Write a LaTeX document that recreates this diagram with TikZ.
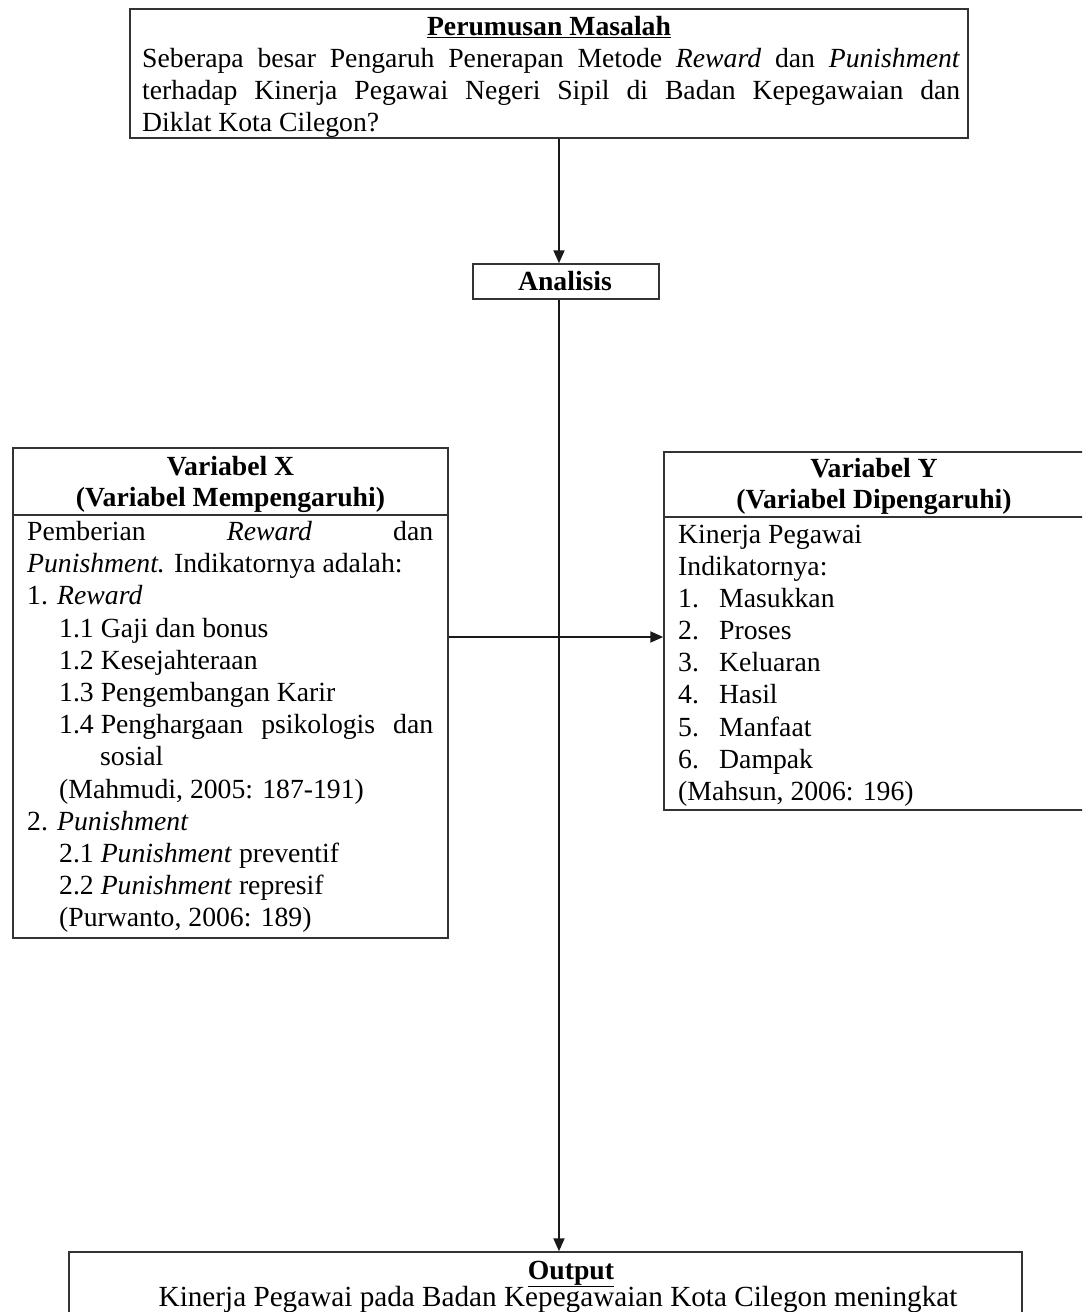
\documentclass[tikz,border=0pt]{standalone}
\usepackage{fontspec}
\setmainfont{Liberation Serif}
\usetikzlibrary{arrows.meta,positioning}

% justified line of a given width
\newcommand{\jline}[2]{\makebox[#1][s]{#2}}

\begin{document}
\begin{tikzpicture}[x=1pt,y=-1pt,
  every node/.style={inner sep=0pt, font=\fontsize{27.7}{32.2}\selectfont},
  box/.style={draw=black!80, line width=1.5pt},
  head/.style={anchor=base, font=\fontsize{27.7}{32.2}\selectfont\bfseries},
  txt/.style={anchor=base west},
  arr/.style={draw=black!90, line width=2pt, -{Triangle[length=13pt,width=11pt]}}]
\useasboundingbox (0,0) rectangle (1082,1312);
\clip (0,0) rectangle (1082,1312);

% boxes
\node[box, minimum width=838, minimum height=129] (pm) at (549,73.5) {};
\node[box, minimum width=186, minimum height=35] (an) at (566,281.5) {};
\node[box, minimum width=435, minimum height=490] (vx) at (230.5,693) {};
\node[box, minimum width=436, minimum height=358] (vy) at (882,631) {};
\node[box, minimum width=953, minimum height=93] (out) at (545.5,1298.5) {};
\draw[box] (vx.west |- 0,515) -- (vx.east |- 0,515);
\draw[box] (vy.west |- 0,517) -- (vy.east |- 0,517);

% Perumusan Masalah
\node[head] (pmt) at (549,35) {\underline{Perumusan Masalah}};
\node[txt] (pm1) at (142,67) {\jline{818pt}{Seberapa besar Pengaruh Penerapan Metode \textit{Reward} dan \textit{Punishment}}};
\node[txt] (pm2) at (142,99) {\jline{818pt}{terhadap Kinerja Pegawai Negeri Sipil di Badan Kepegawaian dan}};
\node[txt] (pm3) at (142,131) {Diklat Kota Cilegon?};

% Analisis
\node[head] (ant) at (565,290) {Analisis};

% Variabel X
\node[head] (vxt1) at (230.5,475) {Variabel X};
\node[head] (vxt2) at (230.5,506) {(Variabel Mempengaruhi)};
\node[txt] (vx1) at (27,540) {\jline{406pt}{Pemberian \textit{Reward} dan}};
\node[txt] (vx2) at (27,572) {\textit{Punishment.} Indikatornya adalah:};
\node[txt] (vx3) at (27,604) {1. \textit{Reward}};
\node[txt] (vx4) at (59,637) {1.1 Gaji dan bonus};
\node[txt] (vx5) at (59,669) {1.2 Kesejahteraan};
\node[txt] (vx6) at (59,701) {1.3 Pengembangan Karir};
\node[txt] (vx7) at (59,733) {\jline{374pt}{\mbox{1.4 Penghargaan} psikologis dan}};
\node[txt] (vx8) at (100,765) {sosial};
\node[txt] (vx9) at (59,798) {(Mahmudi, 2005: 187-191)};
\node[txt] (vx10) at (27,830) {2. \textit{Punishment}};
\node[txt] (vx11) at (59,862) {2.1 \textit{Punishment} preventif};
\node[txt] (vx12) at (59,894) {2.2 \textit{Punishment} represif};
\node[txt] (vx13) at (59,926) {(Purwanto, 2006: 189)};

% Variabel Y
\node[head] (vyt1) at (874,477) {Variabel Y};
\node[head] (vyt2) at (874,508) {(Variabel Dipengaruhi)};
\node[txt] (vy1) at (678,543) {Kinerja Pegawai};
\node[txt] (vy2) at (678,575) {Indikatornya:};
\node[txt] (vy3) at (678,607) {\makebox[41pt][l]{1.}Masukkan};
\node[txt] (vy4) at (678,639) {\makebox[41pt][l]{2.}Proses};
\node[txt] (vy5) at (678,671) {\makebox[41pt][l]{3.}Keluaran};
\node[txt] (vy6) at (678,703) {\makebox[41pt][l]{4.}Hasil};
\node[txt] (vy7) at (678,736) {\makebox[41pt][l]{5.}Manfaat};
\node[txt] (vy8) at (678,768) {\makebox[41pt][l]{6.}Dampak};
\node[txt] (vy9) at (678,800) {(Mahsun, 2006: 196)};

% Output
\node[head] (outt) at (571,1279) {\underline{Output}};
\node[head, font=\fontsize{29.2}{32.2}\selectfont] (out1) at (558,1306) {Kinerja Pegawai pada Badan Kepegawaian Kota Cilegon meningkat};

% connectors
\coordinate (ax) at (559,0);
\draw[arr] (pm.south -| ax) -- (an.north -| ax);
\draw[arr] (an.south -| ax) -- (out.north -| ax);
\draw[arr] (vx.east |- 0,637) -- (vy.west |- 0,637);
\end{tikzpicture}
\end{document}
